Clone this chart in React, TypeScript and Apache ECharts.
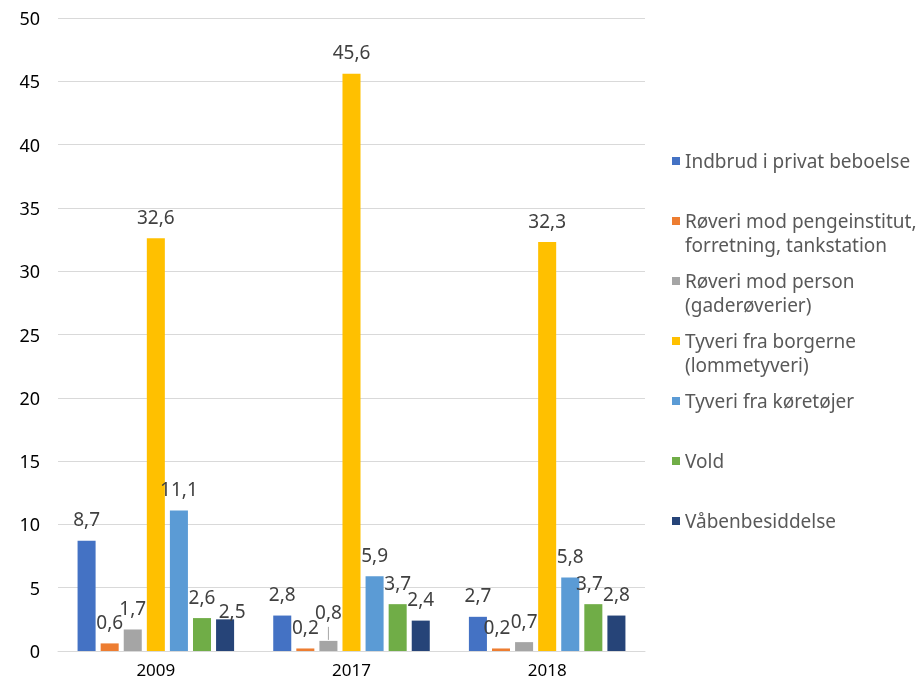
import React, { useEffect, useRef } from "react";
import * as echarts from "echarts";

const categories = ["2009", "2017", "2018"];
const seriesNames = [
  "Indbrud i privat beboelse",
  "Røveri mod pengeinstitut, forretning, tankstation",
  "Røveri mod person (gaderøverier)",
  "Tyveri fra borgerne (lommetyveri)",
  "Tyveri fra køretøjer",
  "Vold",
  "Våbenbesiddelse",
];
const legendFirstLines = [
  "Indbrud i privat beboelse",
  "Røveri mod pengeinstitut,",
  "Røveri mod person",
  "Tyveri fra borgerne",
  "Tyveri fra køretøjer",
  "Vold",
  "Våbenbesiddelse",
];
const legendSecondLines = ["", "forretning, tankstation", "(gaderøverier)", "(lommetyveri)", "", "", ""];
const indbrud = [8.7, 2.8, 2.7];
const roveriPenge = [0.6, 0.2, 0.2];
const roveriPerson = [1.7, 0.8, 0.7];
const tyveriBorgerne = [32.6, 45.6, 32.3];
const tyveriKoretojer = [11.1, 5.9, 5.8];
const vold = [2.6, 3.7, 3.7];
const vaaben = [2.5, 2.4, 2.8];
const seriesValues = [indbrud, roveriPenge, roveriPerson, tyveriBorgerne, tyveriKoretojer, vold, vaaben];
const colors = ["#4472C4", "#ED7D31", "#A5A5A5", "#FFC000", "#5B9BD5", "#70AD47", "#264478"];

// label nudges (series index, category index) -> [dx, dy]
const labelNudges: Record<string, number[]> = {
  "6-0": [7, 13],
  "2-1": [0, -7],
  "1-2": [-4, 0],
  "5-2": [-4, 0],
};

const FONT = "Noto Sans";

export default function App() {
  const ref = useRef<HTMLDivElement>(null);
  useEffect(() => {
    if (!ref.current) return;
    const chart = echarts.init(ref.current, null, { renderer: "svg" });
    const legendTop = 151;
    const pitch = 60;
    const legendGraphics: any[] = legendSecondLines
      .map((t, i) => ({ t, i }))
      .filter((o) => o.t)
      .map((o) => ({
        type: "text",
        id: "l2-" + o.i,
        left: 685,
        top: legendTop + o.i * pitch + 22,
        style: { text: o.t, fontFamily: FONT, fontSize: 19, fill: "#595959", lineHeight: 23 },
      }));
    chart.setOption({
      animation: false,
      color: colors,
      textStyle: { fontFamily: FONT },
      grid: { left: 58, right: 279, top: 18, bottom: 31, containLabel: false },
      legend: {
        orient: "vertical",
        left: 672,
        top: legendTop,
        padding: 0,
        itemGap: pitch - 20,
        itemWidth: 8,
        itemHeight: 8,
        icon: "rect",
        data: seriesNames,
        formatter: (name: string) => legendFirstLines[seriesNames.indexOf(name)],
        textStyle: { fontFamily: FONT, fontSize: 19, color: "#595959", lineHeight: 20, padding: [0, 0, 0, 0] },
      },
      graphic: legendGraphics,
      xAxis: {
        type: "category",
        data: categories,
        axisLine: { lineStyle: { color: "#D9D9D9" } },
        axisTick: { show: false },
        axisLabel: { fontFamily: FONT, fontSize: 17, color: "#000000", margin: 10 },
      },
      yAxis: {
        type: "value",
        min: 0,
        max: 50,
        interval: 5,
        axisLine: { show: false },
        axisTick: { show: false },
        splitLine: { lineStyle: { color: "#D9D9D9" } },
        axisLabel: { fontFamily: FONT, fontSize: 18, color: "#000000", margin: 18 },
      },
      series: seriesNames.map((name, i) => ({
        name,
        type: "bar",
        barGap: "28%",
        barCategoryGap: "20%",
        itemStyle: { color: colors[i] },
        data: seriesValues[i].map((v, j) => {
          const n = labelNudges[i + "-" + j];
          return n ? { value: v, label: { offset: n } } : v;
        }),
        label: {
          show: true,
          position: "top",
          distance: 12,
          fontFamily: FONT,
          fontSize: 19,
          color: "#404040",
          formatter: (p: any) => String(p.value).replace(".", ","),
        },
      })),
    });
    // leader line for the moved "0,8" label
    try {
      const data = (chart as any).getModel().getSeriesByIndex(2).getData();
      const lay = data.getItemLayout(1);
      if (lay) {
        const cx = lay.x + lay.width / 2;
        const top = Math.min(lay.y, lay.y + lay.height);
        chart.setOption({
          graphic: [
            ...legendGraphics,
            {
              type: "line",
              id: "leader",
              shape: { x1: cx, y1: top - 14, x2: cx, y2: top - 1 },
              style: { stroke: "#A6A6A6", lineWidth: 1 },
            },
          ],
        });
      }
    } catch (e) {}
    return () => chart.dispose();
  }, []);
  return <div ref={ref} style={{ position: "fixed", left: 0, top: 0, width: 924, height: 682 }} />;
}
